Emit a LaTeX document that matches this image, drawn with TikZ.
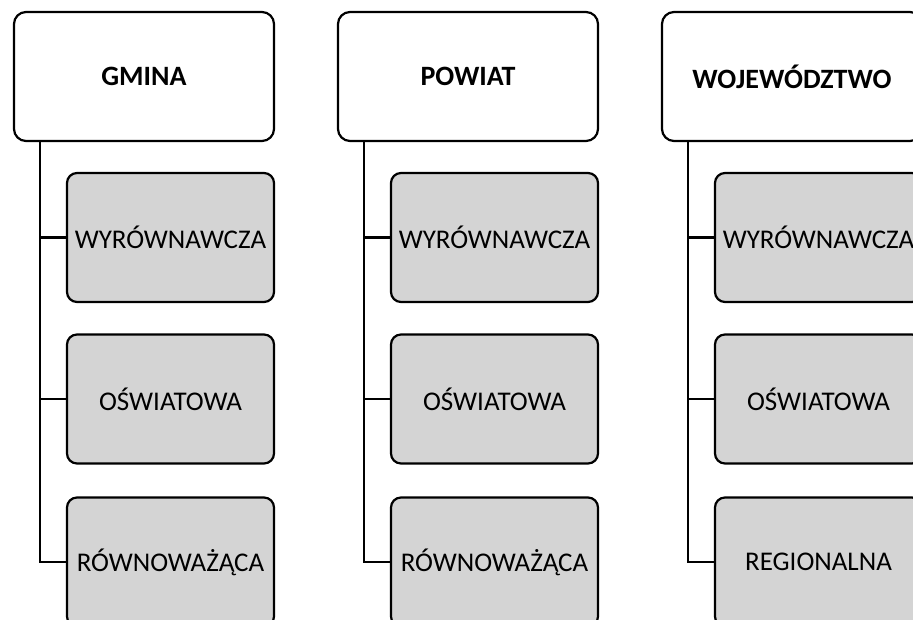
\documentclass[tikz,border=0pt]{standalone}
\usepackage{fontspec}
\setmainfont{Carlito}
\begin{document}
\begin{tikzpicture}[x=1pt,y=-1pt,
  topbox/.style={draw=black, line width=2.2pt, fill=white, rounded corners=12pt,
    minimum width=260pt, minimum height=129pt, inner sep=0pt,
    font=\fontsize{28}{32}\selectfont\bfseries},
  subbox/.style={draw=black, line width=2.2pt, fill=black!17, rounded corners=10pt,
    minimum width=207pt, minimum height=129pt, inner sep=0pt,
    font=\fontsize{27}{32}\selectfont},
  conn/.style={draw=black, line width=2.2pt}]
\useasboundingbox (0,0) rectangle (913,620);
% column 1
\node[topbox] (t1) at (144,76.5) {GMINA};
\node[subbox] (g11) at (170.5,237.5) {WYRÓWNAWCZA};
\node[subbox] (g12) at (170.5,399) {OŚWIATOWA};
\node[subbox] (g13) at (170.5,562) {RÓWNOWAŻĄCA};
\coordinate (s1) at ([xshift=27pt]t1.south west);
\draw[conn] (s1) |- (g13.west);
\draw[conn] (g11.west) -- (g11.west -| s1);
\draw[conn] (g12.west) -- (g12.west -| s1);
% column 2
\node[topbox] (t2) at (468,76.5) {POWIAT};
\node[subbox] (g21) at (494.5,237.5) {WYRÓWNAWCZA};
\node[subbox] (g22) at (494.5,399) {OŚWIATOWA};
\node[subbox] (g23) at (494.5,562) {RÓWNOWAŻĄCA};
\coordinate (s2) at ([xshift=27pt]t2.south west);
\draw[conn] (s2) |- (g23.west);
\draw[conn] (g21.west) -- (g21.west -| s2);
\draw[conn] (g22.west) -- (g22.west -| s2);
% column 3
\node[topbox] (t3) at (792,76.5) {WOJEWÓDZTWO};
\node[subbox] (g31) at (818.5,237.5) {WYRÓWNAWCZA};
\node[subbox] (g32) at (818.5,399) {OŚWIATOWA};
\node[subbox] (g33) at (818.5,562) {REGIONALNA};
\coordinate (s3) at ([xshift=27pt]t3.south west);
\draw[conn] (s3) |- (g33.west);
\draw[conn] (g31.west) -- (g31.west -| s3);
\draw[conn] (g32.west) -- (g32.west -| s3);
\end{tikzpicture}
\end{document}
